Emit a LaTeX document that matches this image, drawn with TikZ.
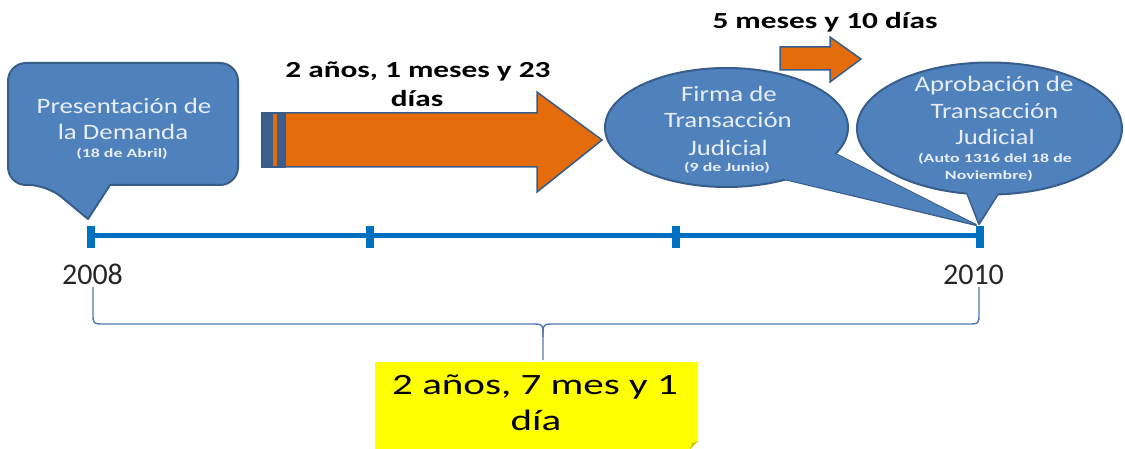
\documentclass[tikz,border=0pt]{standalone}
\usepackage{fontspec}
\setmainfont{Carlito}
\newfontfamily\callfam[FakeStretch=1.22,Numbers=Lining]{Carlito}
\newfontfamily\smallfam[FakeStretch=1.43,Numbers=Lining]{Carlito}
\newfontfamily\labfam[FakeStretch=1.36,Numbers=Lining]{Carlito}
\newfontfamily\yelfam[FakeStretch=1.39,Numbers=Lining]{Carlito}
\newfontfamily\yearfam[Numbers=Lining]{Carlito}
\usetikzlibrary{calc}
\definecolor{cfill}{HTML}{4F81BD}
\definecolor{cborder}{HTML}{385D8A}
\definecolor{ctxt}{HTML}{E8EEF7}
\definecolor{aorange}{HTML}{E46C0A}
\definecolor{astripe}{HTML}{3B5E8C}
\definecolor{tline}{HTML}{0070C0}
\definecolor{bracecol}{HTML}{5079B2}
\definecolor{yel}{HTML}{FFFF00}
\definecolor{yelfold}{HTML}{C8C800}
\tikzset{
  callbox/.style={fill=cfill, draw=cborder, line width=2pt, line join=round},
  callfillonly/.style={fill=cfill},
  ctext/.style={font=\callfam\fontsize{22}{26}\selectfont, text=ctxt, anchor=base, inner sep=0pt},
  csmall/.style={font=\smallfam\bfseries\fontsize{12.5}{14}\selectfont, text=ctxt, anchor=base, inner sep=0pt},
  arrowshape/.style={fill=aorange, draw=cborder, line width=1.5pt, line join=miter},
  boldlab/.style={font=\labfam\bfseries\fontsize{23}{28}\selectfont, text=black, anchor=base, inner sep=0pt},
  yeartext/.style={font=\yearfam\fontsize{30}{36}\selectfont, text=black!85, anchor=base, inner sep=0pt},
  yeltext/.style={font=\yelfam\fontsize{29.5}{36}\selectfont, text=black, anchor=base, inner sep=0pt},
  timeline/.style={draw=tline, line width=5pt},
  tick/.style={draw=tline, line width=7.5pt},
  bracepath/.style={draw=bracecol, line width=1.4pt, line join=round}
}
\begin{document}
\begin{tikzpicture}[x=1pt,y=-1pt]
\useasboundingbox (0,0) rectangle (1125,449);

% ---------- timeline ----------
\coordinate (t0) at (91,236);
\coordinate (t1) at (370,236);
\coordinate (t2) at (676,236);
\coordinate (t3) at (980,236);
\draw[timeline] (t0) -- (t3);
\foreach \t in {t0,t1,t2,t3}{
  \draw[tick] ($(\t)+(0,-10)$) -- ($(\t)+(0,12)$);
}
\node[yeartext] (y2008) at (92.5,284) {2008};
\node[yeartext] (y2010) at (973.5,284) {2010};

% ---------- brace ----------
\coordinate (bl) at (93,287);
\coordinate (br) at (979,287);
\coordinate (btip) at (543,360);
\draw[bracepath] (bl) -- (93,313) .. controls (93,324) .. (104,324) -- (531,324)
  .. controls (543,324) .. (543,337) -- (btip);
\draw[bracepath] (br) -- (979,313) .. controls (979,324) .. (968,324) -- (555,324)
  .. controls (543,324) .. (543,337);

% ---------- yellow note ----------
\path[fill=yel] (375,362) -- (698,362) -- (698,441) -- (690,449) -- (375,449) -- cycle;
\path[fill=yelfold] (698,441) -- (690,449) -- (692,443) -- cycle;
\node[yeltext] (ytot1) at (535,394) {2 años, 7 mes y 1};
\node[yeltext] (ytot2) at (536,430) {día};

% ---------- callout 1 ----------
\draw[callbox] (88,219) -- (110,185) [rounded corners=18pt] -- (238,185) -- (238,63)
  -- (8,63) -- (8,185) -- (47,185) [sharp corners] -- cycle;
\node[ctext] (p1) at (124,114) {Presentación de};
\node[ctext] (p2) at (123,140) {la Demanda};
\node[csmall] (p3) at (122,158) {(18 de Abril)};

% ---------- big arrow ----------
\draw[arrowshape] (262,113) -- (537,113) -- (537,92) -- (602,140) -- (537,192)
  -- (537,167) -- (262,167) -- cycle;
\fill[astripe] (262,113) rectangle (273,167);
\fill[astripe] (277,113) rectangle (285,167);
\draw[cborder, line width=1.5pt] (262,113) rectangle (285,167);
\node[boldlab] (d1a) at (418,78) {2 años, 1 meses y 23};
\node[boldlab] (d1b) at (417,107) {días};

% ---------- small arrow ----------
\draw[arrowshape] (780,47) -- (830,47) -- (830,37) -- (861,59) -- (830,82)
  -- (830,70) -- (780,70) -- cycle;
\node[boldlab] (d2) at (825,29) {5 meses y 10 días};

% ---------- ellipse callout 1 ----------
\draw[callbox] (800,136) -- (976,225) -- (780,178);
\draw[callbox] (726.5,127.5) ellipse [x radius=121.5, y radius=59.5];
\fill[callfillonly] (800,136) -- (974,224) -- (780,178) -- cycle;
\node[ctext] (f1) at (729,102) {Firma de};
\node[ctext] (f2) at (728,128) {Transacción};
\node[ctext] (f3) at (728,155.5) {Judicial};
\node[csmall] (f4) at (727,171.5) {(9 de Junio)};

% ---------- ellipse callout 2 ----------
\draw[callbox] (960,175) -- (979,224) -- (1010,175);
\draw[callbox] (989.5,128.5) ellipse [x radius=132.5, y radius=66];
\fill[callfillonly] (960,175) -- (979,222) -- (1010,175) -- cycle;
\node[ctext] (a1) at (994,92) {Aprobación de};
\node[ctext] (a2) at (994.5,119) {Transacción};
\node[ctext] (a3) at (995,145) {Judicial};
\node[csmall] (a4) at (995,163) {(Auto 1316 del 18 de};
\node[csmall] (a5) at (989,180) {Noviembre)};
\end{tikzpicture}
\end{document}
